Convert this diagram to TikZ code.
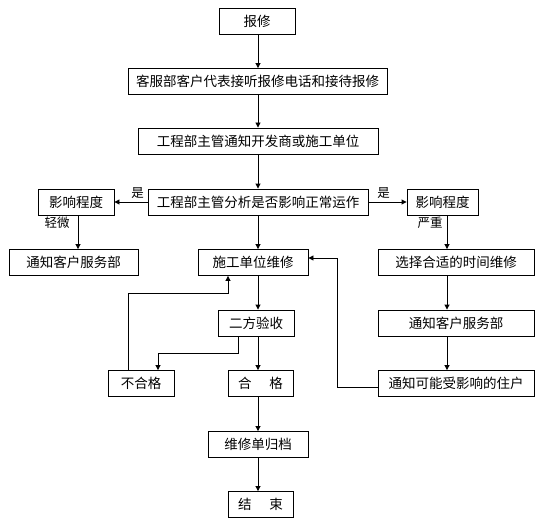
\documentclass[tikz,border=0pt]{standalone}
\usepackage{fontspec}
\setmainfont{Noto Sans CJK SC}
\usetikzlibrary{arrows.meta}

\begin{document}
\begin{tikzpicture}[x=1pt,y=-1pt,
    box/.style={draw, line width=0.9pt, inner sep=0pt, minimum height=26pt, font=\fontsize{13.5pt}{13.5pt}\selectfont},
    arr/.style={-{Triangle[length=5pt,width=5pt]}, line width=0.9pt},
    lbl/.style={font=\fontsize{12.5pt}{12.5pt}\selectfont, inner sep=0pt}]
    \useasboundingbox (0,0) rectangle (543,524);

    % Main column
    \node[box, minimum width=76pt] (bx) at (257,21) {报修};
    \node[box, minimum width=259pt] (kf) at (257.5,81.5) {客服部客户代表接听报修电话和接待报修};
    \node[box, minimum width=240pt] (tz) at (258,141) {工程部主管通知开发商或施工单位};
    \node[box, minimum width=220pt] (fx) at (258,202) {工程部主管分析是否影响正常运作};
    \node[box, minimum width=110pt] (sg) at (253,262.5) {施工单位维修};
    \node[box, minimum width=76pt] (ys) at (256,323) {二方验收};
    \node[box, minimum width=65pt] (hg) at (260.5,383.5) {合\hspace{1.3em}格};
    \node[box, minimum width=100pt] (gd) at (258,444.5) {维修单归档};
    \node[box, minimum width=65pt] (js) at (260.5,504.5) {结\hspace{1.3em}束};
    \node[box, minimum width=66pt] (bhg) at (141,383.5) {不合格};

    % Left branch (slight)
    \node[box, minimum width=76pt] (yxl) at (76,202) {影响程度};
    \node[box, minimum width=129pt] (kfl) at (73.5,262.5) {通知客户服务部};

    % Right branch (serious)
    \node[box, minimum width=71pt] (yxr) at (442.5,202) {影响程度};
    \node[box, minimum width=156pt] (xz) at (456,262.5) {选择合适的时间维修};
    \node[box, minimum width=156pt] (kfr) at (456,323) {通知客户服务部};
    \node[box, minimum width=156pt] (zh) at (456,383.5) {通知可能受影响的住户};

    % Columns and turning points
    \coordinate (col) at (258,0);
    \coordinate (lcol) at (78,0);
    \coordinate (rcol) at (447,0);
    \coordinate (fk1) at (238,353);
    \coordinate (fk2) at (158,353);
    \coordinate (lp1) at (128,293);
    \coordinate (lp2) at (228,293);
    \coordinate (rt1) at (337,387);
    \coordinate (rt2) at (337,258);

    % Main flow
    \draw[arr] (bx.south -| col) -- (kf.north -| col);
    \draw[arr] (kf.south -| col) -- (tz.north -| col);
    \draw[arr] (tz.south -| col) -- (fx.north -| col);
    \draw[arr] (fx.south -| col) -- (sg.north -| col);
    \draw[arr] (sg.south -| col) -- (ys.north -| col);
    \draw[arr] (ys.south -| col) -- (hg.north -| col);
    \draw[arr] (hg.south -| col) -- (gd.north -| col);
    \draw[arr] (gd.south -| col) -- (js.north -| col);

    % Branches from analysis
    \draw[arr] (fx.west) -- (yxl.east) node[lbl, pos=0.3, above=3pt] {是};
    \draw[arr] (fx.east) -- (yxr.west) node[lbl, pos=0.4, above=3pt] {是};
    \draw[arr] (yxl.south -| lcol) -- (kfl.north -| lcol);
    \node[lbl] (qw) at (57,223) {轻微};
    \draw[arr] (yxr.south -| rcol) -- (xz.north -| rcol);
    \node[lbl] (yz) at (430,223) {严重};
    \draw[arr] (xz.south -| rcol) -- (kfr.north -| rcol);
    \draw[arr] (kfr.south -| rcol) -- (zh.north -| rcol);

    % Failed check loops back
    \draw[arr] (ys.south -| fk1) -- (fk1) -- (fk2) -- (fk2 |- bhg.north);
    \draw[arr] (bhg.north -| lp1) -- (lp1) -- (lp2) -- (lp2 |- sg.south);

    % Residents notified, back to repair
    \draw[arr] (zh.west |- rt1) -- (rt1) -- (rt2) -- (rt2 -| sg.east);
\end{tikzpicture}
\end{document}
